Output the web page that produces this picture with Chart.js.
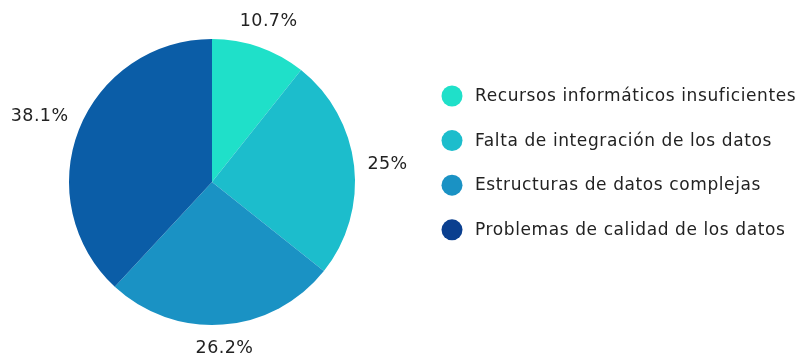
<!DOCTYPE html>
<html lang="es">
<head>
<meta charset="utf-8">
<title>Problemas de datos</title>
<script src="https://cdn.jsdelivr.net/npm/chart.js@4.4.1/dist/chart.umd.min.js"></script>
<style>
  html, body { margin: 0; padding: 0; background: #ffffff; }
  #wrap { position: relative; width: 799px; height: 362px; }
</style>
</head>
<body>
<div id="wrap"><canvas id="pie" width="799" height="362"></canvas></div>
<script>
// Categorías y porcentajes
const categories = [
  'Recursos informáticos insuficientes',
  'Falta de integración de los datos',
  'Estructuras de datos complejas',
  'Problemas de calidad de los datos'
];
const shares = [10.7, 25, 26.2, 38.1];

// Colores de los sectores y de la leyenda
const sliceColors = ['#1fe0c9', '#1cbdcc', '#1a92c4', '#0b5da7'];
const legendColors = ['#1fe0c9', '#1cbdcc', '#1a92c4', '#0a3f8f'];

const FONT = '"DejaVu Sans", sans-serif';
const TEXT_COLOR = '#222222';

function fmt(v) {
  return (Math.round(v * 10) / 10).toString() + '%';
}

// Etiquetas de porcentaje fuera de cada sector, separadas del borde
const outsideLabels = {
  id: 'outsideLabels',
  afterDatasetsDraw(chart) {
    const ctx = chart.ctx;
    const meta = chart.getDatasetMeta(0);
    const values = chart.data.datasets[0].data;
    const gap = 13;
    ctx.save();
    ctx.font = '17.5px ' + FONT;
    if ('letterSpacing' in ctx) ctx.letterSpacing = '0.4px';
    ctx.fillStyle = TEXT_COLOR;
    ctx.textAlign = 'center';
    ctx.textBaseline = 'alphabetic';
    meta.data.forEach((arc, i) => {
      const p = arc.getProps(['x', 'y', 'startAngle', 'endAngle', 'outerRadius'], true);
      const mid = (p.startAngle + p.endAngle) / 2;
      const text = fmt(values[i]);
      const m = ctx.measureText(text);
      const w = m.width;
      const h = m.actualBoundingBoxAscent;
      const c = Math.cos(mid), s = Math.sin(mid);
      const half = Math.abs(c) * w / 2 + Math.abs(s) * h / 2;
      const d = p.outerRadius + gap + half;
      const cx = p.x + c * d;
      const cy = p.y + s * d;
      ctx.fillText(text, cx, cy + h / 2);
    });
    ctx.restore();
  }
};

// Leyenda con círculos a la derecha
const sideLegend = {
  id: 'sideLegend',
  afterDraw(chart) {
    const ctx = chart.ctx;
    const x0 = 452, y0 = 96, step = 44.6, rad = 10.5;
    ctx.save();
    ctx.font = '17px ' + FONT;
    if ('letterSpacing' in ctx) ctx.letterSpacing = '0.6px';
    ctx.textAlign = 'left';
    ctx.textBaseline = 'alphabetic';
    chart.data.labels.forEach((lab, i) => {
      const y = y0 + i * step;
      ctx.beginPath();
      ctx.arc(x0, y, rad, 0, Math.PI * 2);
      ctx.fillStyle = legendColors[i];
      ctx.fill();
      ctx.fillStyle = TEXT_COLOR;
      ctx.fillText(lab, 475, y + 5);
    });
    ctx.restore();
  }
};

new Chart(document.getElementById('pie'), {
  type: 'pie',
  data: {
    labels: categories,
    datasets: [{
      data: shares,
      backgroundColor: sliceColors,
      borderWidth: 0
    }]
  },
  options: {
    responsive: false,
    animation: false,
    layout: { padding: { left: 69, right: 444, top: 39, bottom: 37 } },
    plugins: {
      legend: { display: false },
      tooltip: { enabled: false }
    }
  },
  plugins: [outsideLabels, sideLegend]
});
</script>
</body>
</html>
